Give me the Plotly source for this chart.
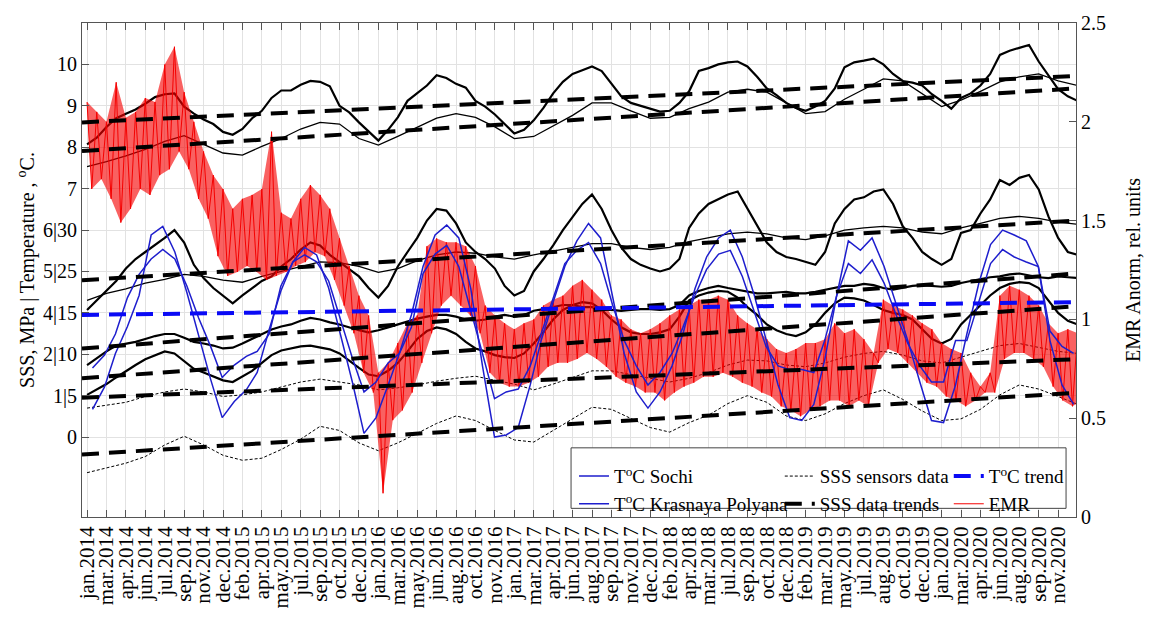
import pandas as pd
import plotly.graph_objects as go

FONT = "Liberation Serif"

# ---------------- tick labels ----------------
x_tick_labels = [
    "jan.2014", "mar.2014", "apr.2014", "jun.2014", "jul.2014", "sep.2014", "nov.2014", "dec.2014",
    "feb.2015", "apr.2015", "may.2015", "jul.2015", "sep.2015", "oct.2015", "dec.2015",
    "jan.2016", "mar.2016", "may.2016", "jun.2016", "aug.2016", "oct.2016", "nov.2016",
    "jan.2017", "mar.2017", "apr.2017", "jun.2017", "aug.2017", "sep.2017", "nov.2017", "dec.2017",
    "feb.2018", "apr.2018", "mar.2018", "jul.2018", "sep.2018", "oct.2018", "dec.2018",
    "feb.2019", "mar.2019", "may.2019", "jul.2019", "aug.2019", "oct.2019", "dec.2019",
    "jan.2020", "mar.2020", "apr.2020", "jun.2020", "aug.2020", "sep.2020", "nov.2020",
]
left_tick_labels = ["0", "1|5", "2|10", "4|15", "5|25", "6|30", "7", "8", "9", "10"]
left_tick_slots = [0, 1, 2, 3, 4, 5, 6, 7, 8, 9]
right_ticks = [0, 0.5, 1, 1.5, 2, 2.5]

# ---------------- SSS sensors data (left axis units) ----------------
# noisy series, one value every 25 days from 2014-01-01
sss_top_noisy = [
    7.07, 7.23, 7.49, 7.70, 7.81, 7.91, 8.05, 8.21, 8.28, 8.30,
    7.98, 7.81, 7.67, 7.56, 7.37, 7.30, 7.44, 7.70, 7.88, 8.19,
    8.37, 8.37, 8.51, 8.60, 8.58, 8.47, 8.00, 7.84, 7.60, 7.37,
    7.16, 7.42, 7.72, 8.12, 8.30, 8.49, 8.74, 8.67, 8.53, 8.44,
    8.12, 7.98, 7.79, 7.56, 7.33, 7.42, 7.65, 7.95, 8.30, 8.58,
    8.77, 8.86, 8.95, 8.84, 8.53, 8.23, 8.07, 8.00, 7.93, 7.86,
    7.88, 8.07, 8.35, 8.84, 8.91, 9.00, 9.05, 9.07, 8.95, 8.70,
    8.42, 8.26, 8.07, 7.95, 7.88, 7.98, 8.12, 8.42, 8.93, 9.05,
    9.09, 9.14, 9.00, 8.77, 8.60, 8.56, 8.49, 8.28, 8.12, 7.93,
    8.19, 8.30, 8.49, 8.77, 9.23, 9.33, 9.40, 9.47, 9.07, 8.72,
    8.40, 8.23, 8.12,
]
sss_mid_noisy = [
    3.07, 3.30, 3.53, 3.77, 4.07, 4.30, 4.47, 4.63, 4.81, 5.00,
    4.70, 4.16, 3.84, 3.60, 3.42, 3.23, 3.42, 3.60, 3.77, 3.88,
    4.12, 4.30, 4.53, 4.70, 4.63, 4.40, 4.23, 4.07, 3.88, 3.60,
    3.37, 3.65, 4.12, 4.47, 4.81, 5.23, 5.51, 5.47, 5.16, 4.70,
    4.47, 4.30, 4.07, 3.65, 3.42, 3.53, 4.00, 4.30, 4.63, 5.00,
    5.33, 5.63, 5.86, 5.51, 5.00, 4.58, 4.30, 4.16, 4.07, 4.00,
    4.07, 4.30, 5.05, 5.40, 5.63, 5.74, 5.86, 5.93, 5.51, 5.09,
    4.70, 4.47, 4.35, 4.30, 4.23, 4.16, 4.47, 5.16, 5.51, 5.74,
    5.79, 5.93, 5.98, 5.63, 5.09, 4.81, 4.47, 4.30, 4.16, 4.30,
    4.93, 5.00, 5.40, 5.74, 6.21, 6.09, 6.26, 6.33, 5.98, 5.33,
    4.81, 4.47, 4.40,
]
sss_c_upper_noisy = [
    1.74, 1.91, 2.07, 2.21, 2.26, 2.30, 2.37, 2.44, 2.49, 2.49,
    2.40, 2.30, 2.26, 2.21, 2.14, 2.16, 2.26, 2.37, 2.49, 2.60,
    2.67, 2.72, 2.81, 2.88, 2.84, 2.77, 2.72, 2.65, 2.58, 2.53,
    2.58, 2.65, 2.72, 2.79, 2.86, 2.91, 2.95, 2.95, 2.91, 2.84,
    2.81, 2.84, 2.91, 2.95, 2.91, 2.95, 3.05, 3.09, 3.14, 3.19,
    3.19, 3.14, 3.14, 3.09, 3.07, 3.05, 3.07, 3.09, 3.09, 3.07,
    3.09, 3.19, 3.42, 3.53, 3.60, 3.65, 3.60, 3.56, 3.51, 3.47,
    3.47, 3.49, 3.51, 3.47, 3.47, 3.51, 3.56, 3.60, 3.65, 3.65,
    3.70, 3.67, 3.60, 3.56, 3.60, 3.65, 3.67, 3.65, 3.63, 3.65,
    3.72, 3.77, 3.81, 3.86, 3.88, 3.93, 3.95, 3.91, 3.86, 3.84,
    3.88, 3.86, 3.84,
]
sss_c_lower_noisy = [
    1.02, 1.14, 1.28, 1.44, 1.60, 1.74, 1.88, 1.98, 2.07, 2.02,
    1.84, 1.65, 1.56, 1.47, 1.37, 1.33, 1.47, 1.60, 1.79, 1.98,
    2.09, 2.14, 2.19, 2.21, 2.16, 2.12, 2.02, 1.84, 1.67, 1.51,
    1.47, 1.60, 1.79, 2.07, 2.37, 2.56, 2.65, 2.60, 2.49, 2.30,
    2.14, 2.07, 1.98, 1.93, 1.91, 2.02, 2.26, 2.53, 2.84, 3.07,
    3.19, 3.26, 3.23, 3.07, 2.84, 2.65, 2.53, 2.49, 2.49, 2.53,
    2.60, 2.91, 3.30, 3.42, 3.49, 3.53, 3.51, 3.37, 3.14, 2.95,
    2.72, 2.58, 2.49, 2.44, 2.53, 2.72, 3.00, 3.23, 3.37, 3.35,
    3.30, 3.19, 3.07, 3.00, 2.95, 2.84, 2.60, 2.37, 2.26, 2.37,
    2.72, 2.95, 3.19, 3.42, 3.60, 3.70, 3.74, 3.72, 3.60, 3.30,
    3.00, 2.81, 2.72,
]
# smoother series, one value every 50 days from 2014-01-01
sss_top_thin = [
    6.53, 6.65, 6.79, 6.95, 7.14, 7.28, 7.07, 6.86, 6.81, 7.02,
    7.21, 7.44, 7.60, 7.56, 7.21, 7.05, 7.26, 7.47, 7.70, 7.81,
    7.72, 7.49, 7.21, 7.26, 7.51, 7.77, 8.07, 8.07, 7.88, 7.70,
    7.72, 7.93, 8.09, 8.33, 8.40, 8.33, 8.07, 7.81, 7.86, 8.16,
    8.40, 8.65, 8.60, 8.30, 7.98, 8.14, 8.35, 8.58, 8.70, 8.77,
    8.60, 8.49,
]
sss_mid_thin = [
    3.30, 3.47, 3.58, 3.72, 3.81, 3.93, 3.88, 3.79, 3.74, 3.88,
    4.00, 4.12, 4.23, 4.21, 4.12, 3.98, 4.07, 4.26, 4.40, 4.47,
    4.44, 4.35, 4.30, 4.40, 4.49, 4.58, 4.67, 4.67, 4.58, 4.53,
    4.58, 4.72, 4.81, 4.91, 4.95, 4.91, 4.81, 4.77, 4.86, 5.00,
    5.05, 5.09, 5.05, 4.95, 4.91, 5.05, 5.16, 5.28, 5.33, 5.28,
    5.19, 5.14,
]
sss_low_upper = [
    0.70, 0.77, 0.84, 0.98, 1.09, 1.16, 1.09, 0.98, 1.02, 1.09,
    1.21, 1.33, 1.40, 1.33, 1.26, 1.14, 1.19, 1.26, 1.35, 1.42,
    1.47, 1.37, 1.28, 1.14, 1.28, 1.44, 1.60, 1.60, 1.51, 1.42,
    1.33, 1.42, 1.56, 1.74, 1.86, 1.84, 1.74, 1.70, 1.79, 1.93,
    2.02, 2.07, 1.98, 1.84, 1.79, 1.93, 2.07, 2.21, 2.26, 2.16,
    2.07, 2.02,
]
sss_low_lower = [
    -0.86, -0.74, -0.63, -0.47, -0.19, 0.02, -0.19, -0.44, -0.56, -0.51,
    -0.30, -0.05, 0.26, 0.16, -0.14, -0.33, -0.14, 0.09, 0.33, 0.51,
    0.40, 0.16, -0.07, -0.12, 0.16, 0.44, 0.72, 0.67, 0.44, 0.23,
    0.12, 0.35, 0.53, 0.81, 1.00, 0.84, 0.51, 0.40, 0.56, 0.81,
    1.00, 1.14, 0.91, 0.63, 0.40, 0.44, 0.67, 1.02, 1.26, 1.16,
    0.98, 0.79,
]

# ---------------- SSS data trends (start value, end value) ----------------
trend_dates = ["2013-12-19", "2020-12-21"]
trend_a1 = [7.60, 8.72]
trend_a2 = [6.91, 8.42]
trend_b1 = [3.79, 5.23]
trend_c1 = [2.14, 3.95]
trend_c2 = [1.42, 3.16]
trend_d1 = [0.95, 1.88]
trend_d2 = [-0.42, 1.07]
temp_trend = [2.95, 3.26]

# ---------------- monthly temperatures (left axis units) ----------------
temp_sochi = [
    0.67, 1.21, 2.02, 2.67, 3.42, 4.88, 5.09, 4.47, 3.49, 2.49, 1.40, 0.47,
    0.86, 1.14, 1.56, 2.60, 3.53, 4.23, 4.58, 4.40, 3.60, 2.49, 1.33, 0.09,
    0.47, 1.26, 2.02, 2.95, 4.12, 4.88, 5.12, 4.81, 3.58, 1.72, 0.00, 0.05,
    0.23, 1.26, 2.33, 3.26, 4.12, 4.74, 5.16, 4.81, 3.42, 2.02, 1.09, 0.70,
    1.09, 1.72, 2.49, 3.58, 4.35, 4.81, 5.00, 4.35, 3.42, 2.33, 1.26, 0.47,
    0.40, 0.79, 1.86, 3.42, 4.74, 4.51, 4.81, 4.12, 3.19, 2.33, 1.33, 0.40,
    0.35, 1.26, 2.49, 3.72, 4.65, 5.00, 4.88, 4.74, 4.12, 2.33, 1.26, 0.79,
]
temp_krasnaya = [
    1.67, 1.98, 2.49, 3.37, 3.93, 4.30, 4.53, 4.30, 3.65, 2.88, 2.19, 1.44,
    1.74, 1.95, 2.07, 2.49, 3.65, 4.23, 4.40, 4.23, 3.77, 2.84, 1.91, 1.09,
    1.33, 1.79, 2.02, 2.65, 3.95, 4.42, 4.63, 4.12, 3.02, 2.02, 0.93, 1.09,
    1.16, 1.72, 2.49, 3.35, 4.19, 4.51, 4.70, 4.19, 3.19, 2.33, 1.72, 1.26,
    1.56, 2.02, 2.65, 3.42, 4.05, 4.42, 4.51, 3.88, 3.02, 2.19, 1.72, 1.63,
    1.63, 1.56, 2.33, 3.42, 4.19, 3.95, 4.28, 3.72, 2.95, 2.26, 1.72, 1.33,
    1.33, 2.33, 2.33, 3.26, 4.19, 4.53, 4.35, 4.23, 4.12, 2.56, 2.19, 2.02,
]

# ---------------- EMR (right axis): upper / lower edge of the noisy trace, every 25 days ----------------
emr_upper = [
    2.10, 2.05, 2.00, 2.20, 2.02, 2.05, 2.12, 2.10, 2.29, 2.38,
    2.15, 2.00, 1.85, 1.73, 1.66, 1.56, 1.61, 1.63, 1.66, 1.95,
    1.54, 1.51, 1.61, 1.68, 1.63, 1.56, 1.41, 1.27, 1.12, 1.02,
    0.73, 0.78, 0.88, 0.98, 1.02, 1.37, 1.41, 1.39, 1.39, 1.37,
    1.27, 1.07, 1.02, 0.98, 0.95, 0.98, 1.00, 1.07, 1.10, 1.12,
    1.17, 1.20, 1.15, 1.10, 1.02, 1.00, 0.95, 0.93, 0.95, 0.98,
    1.02, 1.05, 1.07, 1.10, 1.10, 1.12, 1.10, 1.02, 0.98, 0.95,
    0.90, 0.85, 0.83, 0.85, 0.88, 0.88, 0.90, 0.98, 0.93, 0.95,
    0.90, 0.83, 1.10, 1.07, 1.05, 1.02, 0.98, 0.95, 0.88, 0.85,
    0.83, 0.73, 0.66, 0.73, 1.12, 1.17, 1.15, 1.12, 1.07, 0.98,
    0.93, 0.95, 0.93,
]
emr_lower = [
    1.66, 1.71, 1.61, 1.49, 1.56, 1.66, 1.63, 1.73, 1.76, 1.85,
    1.76, 1.61, 1.51, 1.32, 1.22, 1.24, 1.27, 1.24, 1.20, 1.22,
    1.24, 1.27, 1.29, 1.34, 1.32, 1.20, 1.07, 0.93, 0.73, 0.63,
    0.12, 0.49, 0.54, 0.63, 0.78, 0.93, 1.07, 1.12, 1.07, 1.02,
    0.93, 0.73, 0.68, 0.66, 0.66, 0.68, 0.71, 0.76, 0.78, 0.78,
    0.80, 0.83, 0.80, 0.76, 0.71, 0.68, 0.66, 0.63, 0.63, 0.59,
    0.63, 0.66, 0.68, 0.71, 0.71, 0.73, 0.71, 0.68, 0.66, 0.63,
    0.61, 0.56, 0.54, 0.51, 0.54, 0.56, 0.59, 0.59, 0.56, 0.59,
    0.56, 0.78, 0.85, 0.83, 0.78, 0.73, 0.68, 0.66, 0.61, 0.59,
    0.56, 0.59, 0.63, 0.63, 0.80, 0.83, 0.83, 0.80, 0.76, 0.66,
    0.59, 0.56, 0.59,
]

# ---------------- sampling grids ----------------
START = "2014-01-01"
x25 = pd.date_range(START, periods=len(sss_top_noisy), freq="25D")
x50 = pd.date_range(START, periods=len(sss_top_thin), freq="50D")
x_month = pd.date_range(START, periods=len(temp_sochi), freq="MS") + pd.Timedelta(days=14)
x_emr_up = pd.date_range(START, periods=len(emr_upper), freq="25D")
x_emr_lo = pd.date_range("2014-01-13", periods=len(emr_lower), freq="25D")
tick_dates = pd.date_range(START, periods=len(x_tick_labels), freq="50D")

# EMR trace path: it swings between its upper and lower edge
emr_x, emr_y = [], []
for xu, yu, xl, yl in zip(x_emr_up, emr_upper, x_emr_lo, emr_lower):
    emr_x += [xu, xl]
    emr_y += [yu, yl]

BLACK = "black"
BLUE = "rgb(30,30,205)"
TBLUE = "rgb(10,10,245)"
RED = "rgb(245,0,0)"
REDFILL = "rgba(245,0,0,0.62)"
TREND_DASH = "17px,10px"

fig = go.Figure()

# black SSS data (bottom layer, left axis y)
for vals in [sss_top_noisy, sss_mid_noisy, sss_c_upper_noisy, sss_c_lower_noisy]:
    fig.add_trace(go.Scatter(x=x25, y=vals, mode="lines", yaxis="y",
                             line=dict(color=BLACK, width=2.2), showlegend=False,
                             hoverinfo="skip"))
for vals in [sss_top_thin, sss_mid_thin]:
    fig.add_trace(go.Scatter(x=x50, y=vals, mode="lines", yaxis="y",
                             line=dict(color=BLACK, width=1.3), showlegend=False,
                             hoverinfo="skip"))
fig.add_trace(go.Scatter(x=x50, y=sss_low_upper, mode="lines", yaxis="y",
                         line=dict(color=BLACK, width=1, dash="3px,2px"),
                         name="SSS sensors data", legend="legend2", legendrank=1))
fig.add_trace(go.Scatter(x=x50, y=sss_low_lower, mode="lines", yaxis="y",
                         line=dict(color=BLACK, width=1, dash="3px,2px"),
                         showlegend=False, hoverinfo="skip"))

# EMR on right axis: band between the edges, then the swinging trace
fig.add_trace(go.Scatter(x=x_emr_lo, y=emr_lower, mode="lines", yaxis="y2",
                         line=dict(color="rgba(245,0,0,0)", width=0),
                         showlegend=False, hoverinfo="skip"))
fig.add_trace(go.Scatter(x=x_emr_up, y=emr_upper, mode="lines", yaxis="y2",
                         line=dict(color="rgba(245,0,0,0)", width=0), fill="tonexty",
                         fillcolor=REDFILL, showlegend=False, hoverinfo="skip"))
fig.add_trace(go.Scatter(x=emr_x, y=emr_y, mode="lines", yaxis="y2",
                         line=dict(color=RED, width=1), name="EMR",
                         legend="legend3", legendrank=2))

# temperatures + trends (top layer, y3 same scale as y)
fig.add_trace(go.Scatter(x=x_month, y=temp_sochi, mode="lines", yaxis="y3",
                         line=dict(color=BLUE, width=1.5),
                         name="T<sup>o</sup>C Sochi", legend="legend", legendrank=1))
fig.add_trace(go.Scatter(x=x_month, y=temp_krasnaya, mode="lines", yaxis="y3",
                         line=dict(color=BLUE, width=1.5),
                         name="T<sup>o</sup>C Krasnaya Polyana", legend="legend", legendrank=2))
first = True
for tr in [trend_a1, trend_a2, trend_b1, trend_c1, trend_c2, trend_d1, trend_d2]:
    fig.add_trace(go.Scatter(x=trend_dates, y=tr, mode="lines", yaxis="y3",
                             line=dict(color=BLACK, width=4, dash=TREND_DASH),
                             name="SSS data trends", legend="legend2", legendrank=2,
                             showlegend=first, hoverinfo="skip"))
    first = False
fig.add_trace(go.Scatter(x=trend_dates, y=temp_trend, mode="lines", yaxis="y3",
                         line=dict(color=TBLUE, width=4, dash=TREND_DASH),
                         name="T<sup>o</sup>C trend", legend="legend3", legendrank=1))

AX = "#555555"
GRID = "#e2e2e2"
YRANGE = [-1.93, 10.0]

leg_common = dict(bgcolor="rgba(0,0,0,0)", borderwidth=0,
                  font=dict(family=FONT, size=19, color="black"),
                  xanchor="left", yanchor="top", tracegroupgap=0,
                  traceorder="normal", orientation="v")

fig.update_layout(
    width=1152, height=620,
    margin=dict(l=82, r=61, t=17, b=90),
    paper_bgcolor="white", plot_bgcolor="white",
    font=dict(family=FONT, size=20, color="black"),
    xaxis=dict(type="date", range=["2013-12-19", "2020-12-21"],
               tickmode="array", tickvals=tick_dates, ticktext=x_tick_labels,
               tickangle=-90, ticks="inside", ticklen=7, tickcolor=AX,
               showline=True, linecolor=AX, linewidth=1, mirror="ticks",
               showgrid=True, gridcolor=GRID, gridwidth=1, zeroline=False,
               tickfont=dict(family=FONT, size=21, color="black")),
    yaxis=dict(range=YRANGE, tickmode="array", tickvals=left_tick_slots,
               ticktext=left_tick_labels, ticks="inside", ticklen=7, tickcolor=AX,
               showline=True, linecolor=AX, linewidth=1,
               showgrid=True, gridcolor=GRID, zeroline=False,
               tickfont=dict(family=FONT, size=20, color="black"),
               title=dict(text="SSS, MPa | Temperature , <sup>o</sup>C.",
                          font=dict(family=FONT, size=20, color="black"), standoff=2)),
    yaxis2=dict(overlaying="y", side="right", range=[0, 2.5], tickmode="array",
                tickvals=right_ticks, ticks="inside", ticklen=7, tickcolor=AX,
                showline=True, linecolor=AX, linewidth=1, showgrid=False, zeroline=False,
                tickfont=dict(family=FONT, size=20, color="black"),
                title=dict(text="EMR Anorm, rel. units",
                           font=dict(family=FONT, size=20, color="black"), standoff=20)),
    yaxis3=dict(overlaying="y", side="left", range=YRANGE, visible=False,
                showgrid=False, zeroline=False),
    legend=dict(x=0.495, y=0.121, **leg_common),
    legend2=dict(x=0.702, y=0.121, **leg_common),
    legend3=dict(x=0.872, y=0.121, **leg_common),
    shapes=[dict(type="rect", xref="paper", yref="paper",
                 x0=0.492, x1=0.990, y0=0.0175, y1=0.140,
                 fillcolor="white", line=dict(color="#444444", width=1),
                 layer="above")],
)

fig.write_html("out.html")
